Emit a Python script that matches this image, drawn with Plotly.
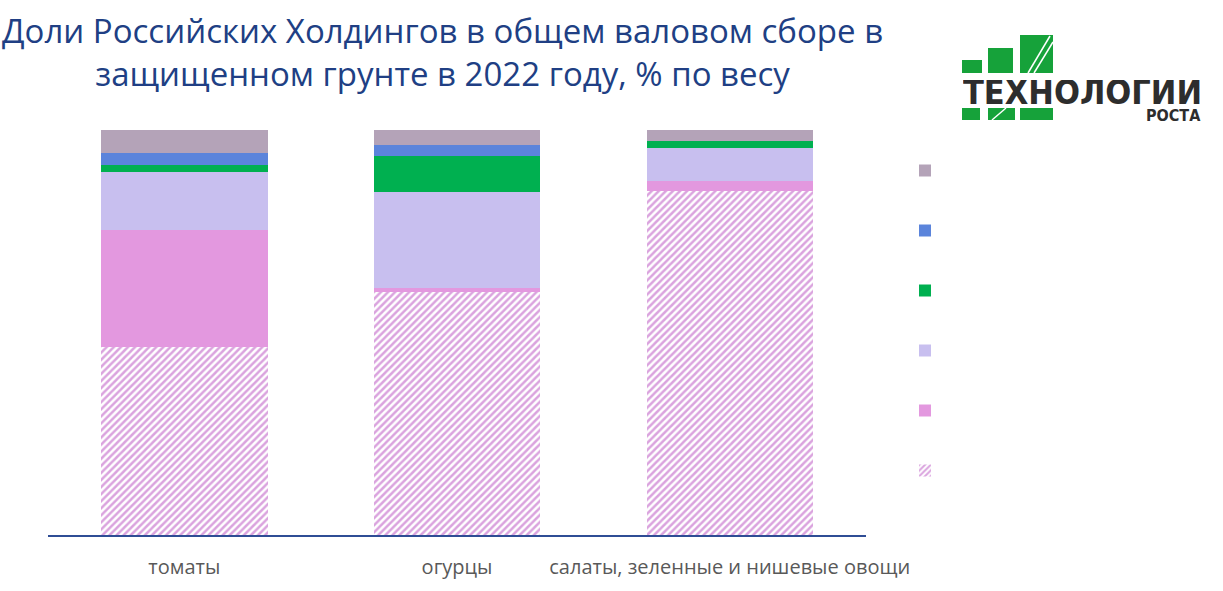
import plotly.graph_objects as go

# ---------------- data ----------------
categories = ["томаты", "огурцы", "салаты, зеленные и нишевые овощи"]
seg_hatched = [46.4, 60.0, 84.9]
seg_pink = [28.9, 1.0, 2.5]
seg_lavender = [14.3, 23.7, 8.1]
seg_green = [1.7, 8.9, 1.7]
seg_blue = [3.0, 2.7, 0.0]
seg_grey = [5.7, 3.7, 2.8]

title_text = "Доли Российских Холдингов в общем валовом сборе в<br>защищенном грунте в 2022 году, % по весу"

# ---------------- layout geometry ----------------
W, H = 1223, 591
L, R, T, B = 48, 357, 130, 56
PW, PH = W - L - R, H - T - B


def px(x):
    return (x - L) / PW


def py(y):
    return (H - B - y) / PH


fig = go.Figure()

series = [
    (seg_hatched, "#ffffff", dict(shape="/", fgcolor="#b548be", bgcolor="#ffffff", size=5, solidity=0.5)),
    (seg_pink, "#e398df", None),
    (seg_lavender, "#c8bfef", None),
    (seg_green, "#00b050", None),
    (seg_blue, "#5b84db", None),
    (seg_grey, "#b4a3b8", None),
]
n = len(series)
for i, (vals, col, pat) in enumerate(series):
    marker = dict(color=col, line=dict(width=0))
    if pat:
        marker["pattern"] = pat
    fig.add_trace(go.Bar(
        x=categories, y=vals, name=" ", marker=marker,
        legendgroup=f"g{i}", legendrank=n - i, showlegend=True, hoverinfo="skip",
    ))

# ---------------- logo (decoration) ----------------
green = "#16a23a"
shapes = []
rects = [
    (962, 60, 982, 73), (988, 48, 1013, 73), (1020, 35, 1053, 73),
    (962, 108, 980, 120), (988, 108, 1015, 120), (1020, 108, 1053, 120),
]
for x0, y0, x1, y1 in rects:
    shapes.append(dict(type="rect", xref="paper", yref="paper",
                       x0=px(x0), x1=px(x1), y0=py(y1), y1=py(y0),
                       fillcolor=green, line=dict(width=0), layer="above"))
for (x0, y0, x1, y1) in [(1028, 73, 1050, 36), (1034, 73, 1053, 42), (992, 120, 1006, 108)]:
    shapes.append(dict(type="line", xref="paper", yref="paper",
                       x0=px(x0), x1=px(x1), y0=py(y0), y1=py(y1),
                       line=dict(color="white", width=1.5), layer="above"))

annotations = [
    dict(text=title_text, xref="paper", yref="paper",
         x=px(442), y=py(52), xanchor="center", yanchor="middle", showarrow=False,
         font=dict(family="Open Sans, sans-serif", size=33, color="#203f84")),
    dict(text="<b>ТЕХНОЛОГИИ</b>", xref="paper", yref="paper",
         x=px(1082), y=py(92), xanchor="center", yanchor="middle", showarrow=False,
         height=24, valign="middle",
         font=dict(family="DejaVu Sans Condensed, Liberation Sans Narrow, Arial Narrow, sans-serif",
                   size=34, color="#2d2d2d")),
    dict(text="<b>РОСТА</b>", xref="paper", yref="paper",
         x=px(1203), y=py(115), xanchor="right", yanchor="middle", showarrow=False,
         height=12, valign="middle",
         font=dict(family="DejaVu Sans Condensed, Liberation Sans Narrow, sans-serif",
                   size=16, color="#2d2d2d")),
]

fig.update_layout(
    width=W, height=H,
    margin=dict(l=L, r=R, t=T, b=B, pad=0),
    paper_bgcolor="white", plot_bgcolor="white",
    barmode="stack", bargap=0.39,
    xaxis=dict(showgrid=False, showline=True, linecolor="#2f4d95", linewidth=2,
               ticks="", ticklabelstandoff=13, automargin=False,
               tickfont=dict(family="Open Sans, sans-serif", size=20, color="#595959")),
    yaxis=dict(range=[0, 100], visible=False, showgrid=False, automargin=False),
    legend=dict(x=px(905), y=py(156), xanchor="left", yanchor="top",
                traceorder="grouped", tracegroupgap=41,
                font=dict(size=12), bgcolor="rgba(0,0,0,0)"),
    shapes=shapes,
    annotations=annotations,
    showlegend=True,
)

fig.write_html("out.html", config={"displayModeBar": False},
               post_script="document.body.style.margin='0px';document.body.style.overflow='hidden';")
